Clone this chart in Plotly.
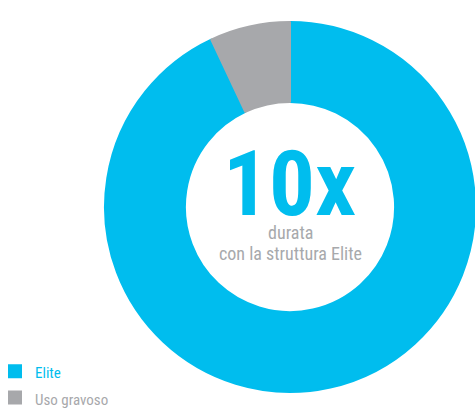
import plotly.graph_objects as go

# Data
labels = ["Elite", "Uso gravoso"]
values = [93, 7]
colors = ["#00BDEE", "#A7A8AB"]
big_text = "10x"
sub_line1 = "durata"
sub_line2 = "con la struttura Elite"

FONT = "Roboto Condensed, Roboto, sans-serif"
GRAY_TXT = "#A7A9AC"
W, H = 475, 408

def px_x(px):
    return px / W

def px_y(py):
    return 1 - py / H

legend_labels = [
    f'<span style="color:{c};font-size:15px">{l}</span>' for l, c in zip(labels, colors)
]

fig = go.Figure(
    go.Pie(
        labels=legend_labels,
        values=values,
        marker=dict(colors=colors, line=dict(color=colors, width=2)),
        hole=0.568,
        sort=False,
        direction="clockwise",
        rotation=0,
        textinfo="none",
        hoverinfo="skip",
        domain=dict(x=[105 / W, 1], y=[16 / H, 1 - 22 / H]),
    )
)

fig.add_annotation(
    text=f"<b>{big_text}</b>", x=px_x(289), y=px_y(184), xref="paper", yref="paper",
    showarrow=False, xanchor="center", yanchor="middle",
    font=dict(family=FONT, size=91, color=colors[0]),
)
fig.add_annotation(
    text=sub_line1, x=px_x(290), y=px_y(232), xref="paper", yref="paper",
    showarrow=False, xanchor="center", yanchor="middle",
    font=dict(family=FONT, size=18, color=GRAY_TXT),
)
fig.add_annotation(
    text=sub_line2, x=px_x(290), y=px_y(253), xref="paper", yref="paper",
    showarrow=False, xanchor="center", yanchor="middle",
    font=dict(family=FONT, size=18, color=GRAY_TXT),
)

fig.update_layout(
    width=W, height=H,
    margin=dict(l=0, r=0, t=0, b=0, pad=0, autoexpand=False),
    paper_bgcolor="white", plot_bgcolor="white",
    showlegend=True,
    legend=dict(
        x=-5 / W, xanchor="left", y=px_y(353), yanchor="top",
        font=dict(family=FONT, size=18), bgcolor="rgba(0,0,0,0)",
        itemclick=False, itemdoubleclick=False,
    ),
)

fig.write_html("out.html", config={"displayModeBar": False})
